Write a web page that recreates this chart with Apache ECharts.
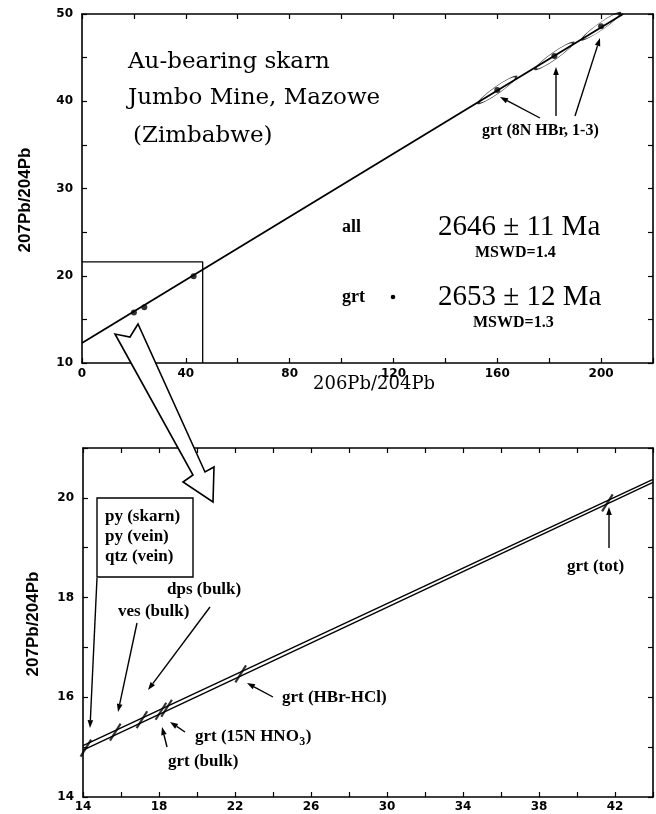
<!DOCTYPE html>
<html><head><meta charset="utf-8">
<script src="https://cdn.jsdelivr.net/npm/echarts@6/dist/echarts.min.js"></script>
<style>html,body{margin:0;padding:0;background:#fff}#c{width:656px;height:814px}</style>
</head><body><div id="c"></div>
<script>
// ---------- data: upper panel ----------
const topXLabels = [0, 40, 80, 120, 160, 200];
const topYLabels = [10, 20, 30, 40, 50];
const topIsochron = [[0, 12.3], [208.5, 50]];
const topSamplePoints = [[20, 15.8], [24, 16.4], [43, 19.95]];
const topGrtPoints = [[160, 41.3], [182, 45.2], [200, 48.6]];
const zoomBox = [[0, 21.6], [46.5, 21.6], [46.5, 10]];
// ---------- data: lower panel ----------
const botXLabels = [14, 18, 22, 26, 30, 34, 38, 42];
const botYLabels = [14, 16, 18, 20];
const isochronAll = [[14, 15.03], [44, 20.37]];
const isochronGrt = [[14, 14.94], [44, 20.31]];
const bottomPoints = [[14.15, 14.98], [15.7, 15.3], [17.1, 15.55], [18.1, 15.72], [18.4, 15.78], [22.3, 16.47], [41.6, 19.9]];

const chart = echarts.init(document.getElementById('c'), null, {renderer: 'canvas'});

function axis(extra) {
  return Object.assign({
    type: 'value',
    axisLine: {show: true, onZero: false, lineStyle: {color: '#000', width: 1.6}},
    splitLine: {show: false},
    axisTick: {show: true, inside: true, length: 5, lineStyle: {color: '#000', width: 1.2}},
    axisLabel: {color: '#000', fontFamily: 'DejaVu Sans', fontWeight: 'bold', fontSize: 12}
  }, extra);
}
function fmt(list) { return v => (list.indexOf(v) >= 0 ? String(v) : ''); }

const serif = '"Liberation Serif"';
const g = [];
function txt(s, x, y, font, align) {
  g.push({type: 'text', z: 100, x: x, y: y, style: {text: s, x: 0, y: 0, font: font, fill: '#000', align: align || 'left', verticalAlign: 'middle'}});
}
function arrow(x1, y1, x2, y2) {
  const head = 8, w = 2.8;
  const a = Math.atan2(y2 - y1, x2 - x1);
  const bx = x2 - head * Math.cos(a), by = y2 - head * Math.sin(a);
  g.push({type: 'line', z: 100, shape: {x1: x1, y1: y1, x2: bx, y2: by}, style: {stroke: '#000', lineWidth: 1.4}});
  g.push({type: 'polygon', z: 100, shape: {points: [[x2, y2], [bx + w * Math.sin(a), by - w * Math.cos(a)], [bx - w * Math.sin(a), by + w * Math.cos(a)]]}, style: {fill: '#000'}});
}

// title block
txt('Au-bearing skarn', 128, 62, '23px "DejaVu Serif"');
txt('Jumbo Mine, Mazowe', 128, 98, '23px "DejaVu Serif"');
txt('(Zimbabwe)', 133, 136, '23px "DejaVu Serif"');
// ages
txt('all', 342, 227, 'bold 18px ' + serif);
txt('2646 \u00b1 11 Ma', 438, 227, '29px ' + serif);
txt('MSWD=1.4', 475, 253, 'bold 16px ' + serif);
txt('grt', 342, 297, 'bold 18px ' + serif);
g.push({type: 'circle', z: 100, shape: {cx: 393, cy: 297, r: 2.3}, style: {fill: '#000'}});
txt('2653 \u00b1 12 Ma', 438, 297, '29px ' + serif);
txt('MSWD=1.3', 473, 323, 'bold 16px ' + serif);
// upper annotations
txt('grt (8N HBr, 1-3)', 482, 131, 'bold 16px ' + serif);
arrow(540, 118, 500, 97);
arrow(556, 116, 556, 67);
arrow(575, 116, 600, 38);
// axis titles
g.push({type: 'text', z: 100, x: 25, y: 200, rotation: Math.PI / 2, style: {text: '207Pb/204Pb', x: 0, y: 0, font: 'bold 17px "Liberation Sans"', fill: '#000', align: 'center', verticalAlign: 'middle'}});
g.push({type: 'text', z: 100, x: 33, y: 624, rotation: Math.PI / 2, style: {text: '207Pb/204Pb', x: 0, y: 0, font: 'bold 17px "Liberation Sans"', fill: '#000', align: 'center', verticalAlign: 'middle'}});
txt('206Pb/204Pb', 374, 384, '18px "DejaVu Serif"', 'center');
// big hollow arrow
g.push({type: 'polygon', z: 120, shape: {points: [[115, 334], [193, 475], [183, 482], [213, 502], [214, 467], [205, 472], [138, 324], [130, 337]]}, style: {fill: '#fff', stroke: '#000', lineWidth: 1.6}});
// legend box lower panel
g.push({type: 'rect', z: 100, shape: {x: 97, y: 498, width: 96, height: 79}, style: {fill: '#fff', stroke: '#000', lineWidth: 1.4}});
txt('py (skarn)', 105, 517, 'bold 17px ' + serif);
txt('py (vein)', 105, 537, 'bold 17px ' + serif);
txt('qtz (vein)', 105, 557, 'bold 17px ' + serif);
arrow(97, 578, 90, 728);
txt('dps (bulk)', 167, 590, 'bold 17px ' + serif);
txt('ves (bulk)', 118, 612, 'bold 17px ' + serif);
arrow(137, 623, 118, 712);
arrow(210, 607, 148, 690);
txt('grt (HBr-HCl)', 282, 698, 'bold 17px ' + serif);
arrow(273, 697, 247, 683);
// subscript label
(function () {
  const f = 'bold 17px ' + serif;
  const c = document.createElement('canvas').getContext('2d');
  c.font = f;
  const w1 = c.measureText('grt (15N HNO').width;
  c.font = 'bold 12px ' + serif;
  const w2 = c.measureText('3').width;
  txt('grt (15N HNO', 195, 737, f);
  txt('3', 195 + w1 + 0.5, 742, 'bold 12px ' + serif);
  txt(')', 195 + w1 + w2 + 1, 737, f);
})();
arrow(185, 732, 170, 722);
txt('grt (bulk)', 168, 762, 'bold 17px ' + serif);
arrow(167, 747, 162, 727);
txt('grt (tot)', 567, 567, 'bold 17px ' + serif);
arrow(609, 548, 609, 507);

const ellipse = 'path://M0,10 A20,10 0 1,1 40,10 A20,10 0 1,1 0,10 Z';

chart.setOption({
  animation: false,
  backgroundColor: '#fff',
  grid: [
    {left: 82, top: 14, width: 572, height: 349},
    {left: 83, top: 448, width: 571, height: 349}
  ],
  xAxis: [
    axis({gridIndex: 0, position: 'bottom', min: 0, max: 220, interval: 20, axisLabel: {color: '#000', fontFamily: 'DejaVu Sans', fontWeight: 'bold', fontSize: 12, margin: 5, formatter: fmt(topXLabels)}}),
    axis({gridIndex: 0, position: 'top', min: 0, max: 220, interval: 20, axisLabel: {show: false}}),
    axis({gridIndex: 1, position: 'bottom', min: 14, max: 44, interval: 2, axisLabel: {color: '#000', fontFamily: 'DejaVu Sans', fontWeight: 'bold', fontSize: 12, margin: 4, formatter: fmt(botXLabels)}}),
    axis({gridIndex: 1, position: 'top', min: 14, max: 44, interval: 2, axisLabel: {show: false}})
  ],
  yAxis: [
    axis({gridIndex: 0, position: 'left', min: 10, max: 50, interval: 5, axisLabel: {color: '#000', fontFamily: 'DejaVu Sans', fontWeight: 'bold', fontSize: 12, margin: 9, formatter: fmt(topYLabels)}}),
    axis({gridIndex: 0, position: 'right', min: 10, max: 50, interval: 5, axisLabel: {show: false}}),
    axis({gridIndex: 1, position: 'left', min: 14, max: 21, interval: 1, axisLabel: {color: '#000', fontFamily: 'DejaVu Sans', fontWeight: 'bold', fontSize: 12, margin: 9, formatter: fmt(botYLabels)}}),
    axis({gridIndex: 1, position: 'right', min: 14, max: 21, interval: 1, axisLabel: {show: false}})
  ],
  series: [
    {type: 'line', xAxisIndex: 0, yAxisIndex: 0, data: topIsochron, symbol: 'none', clip: true, lineStyle: {color: '#000', width: 1.8}},
    {type: 'line', xAxisIndex: 0, yAxisIndex: 0, data: zoomBox, symbol: 'none', lineStyle: {color: '#000', width: 1.3}},
    {type: 'scatter', xAxisIndex: 0, yAxisIndex: 0, data: topSamplePoints, symbol: 'circle', symbolSize: 6, itemStyle: {color: '#000'}},
    {type: 'scatter', xAxisIndex: 0, yAxisIndex: 0, data: topGrtPoints, symbol: ellipse, symbolSize: [46, 7], symbolRotate: 35, itemStyle: {color: 'rgba(0,0,0,0)', borderColor: '#000', borderWidth: 1.2}},
    {type: 'scatter', xAxisIndex: 0, yAxisIndex: 0, data: topGrtPoints, symbol: 'circle', symbolSize: 6, itemStyle: {color: '#000'}},
    {type: 'line', xAxisIndex: 2, yAxisIndex: 2, data: isochronAll, symbol: 'none', lineStyle: {color: '#000', width: 1.4}},
    {type: 'line', xAxisIndex: 2, yAxisIndex: 2, data: isochronGrt, symbol: 'none', lineStyle: {color: '#000', width: 1.4}},
    {type: 'scatter', xAxisIndex: 2, yAxisIndex: 2, data: bottomPoints, symbol: 'rect', symbolSize: [2.2, 20], symbolRotate: -32, itemStyle: {color: '#000'}}
  ],
  graphic: g
});
</script></body></html>
